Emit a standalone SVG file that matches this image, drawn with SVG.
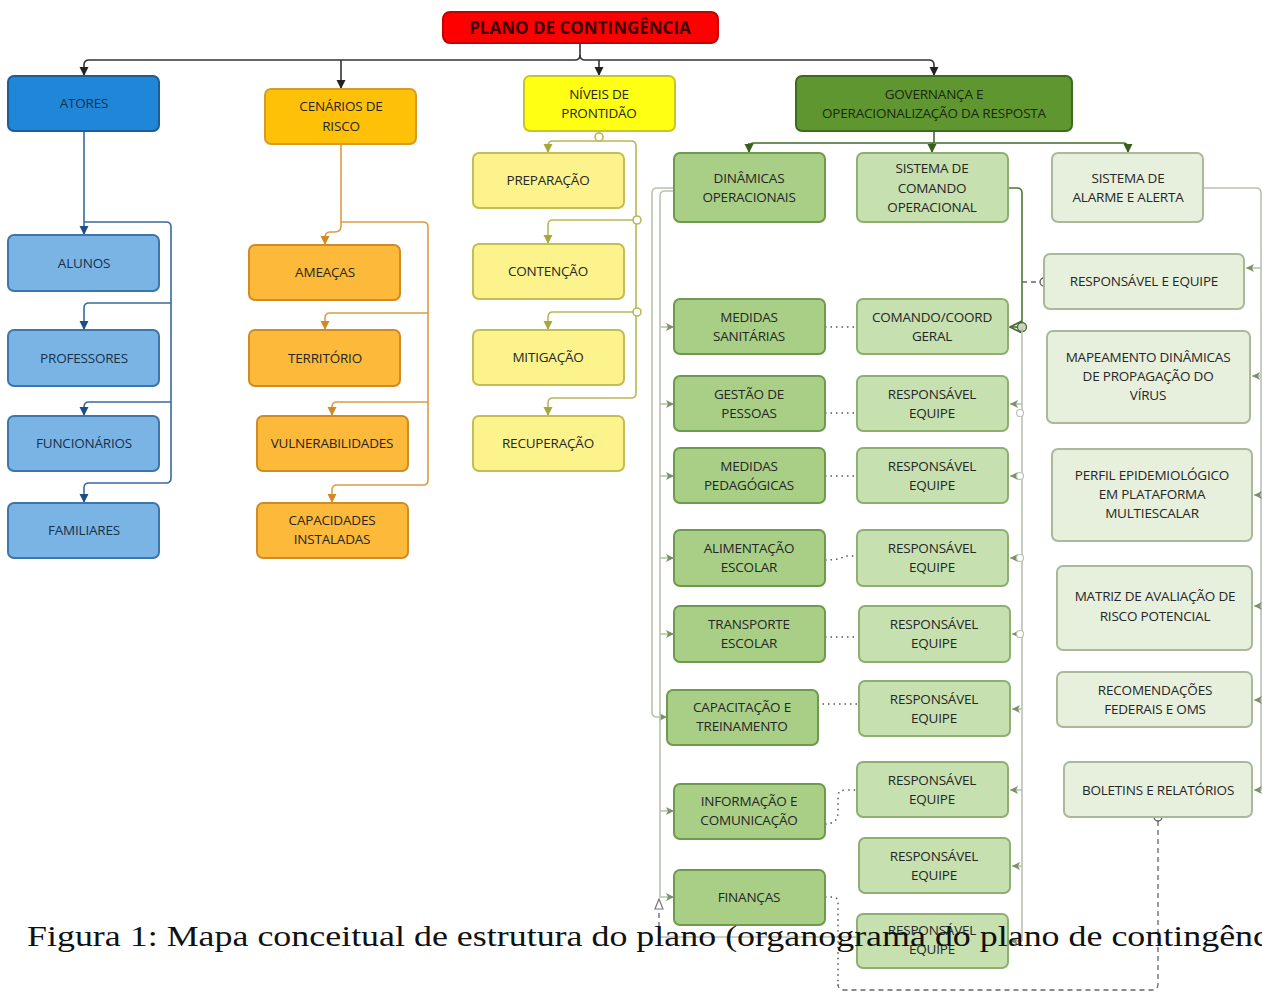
<svg xmlns="http://www.w3.org/2000/svg" width="1262" height="992" viewBox="0 0 1262 992">
<style>
.t{font-family:"Open Sans","Noto Sans",sans-serif;font-size:13.5px;text-anchor:middle;fill:#262626;letter-spacing:-0.2px}
.tb{fill:#17304d}
.c{fill:none;stroke-width:1.6}
.bx{stroke-width:2}
.blue1{fill:#2087d8;stroke:#1b5d96}
.blue2{fill:#7ab4e4;stroke:#3c76ad}
.or1{fill:#ffc107;stroke:#d59b2a}
.or2{fill:#fdb93a;stroke:#cf8c26}
.ye1{fill:#ffff14;stroke:#c6c52a}
.ye2{fill:#fcf38c;stroke:#c4bd55}
.gr0{fill:#5f962f;stroke:#3c6a1f}
.gr1{fill:#a9cf87;stroke:#6e9a4b}
.gr2{fill:#c7e0b0;stroke:#8fae72}
.gr3{fill:#e6f0dc;stroke:#a9b99a}
.dot{fill:none;stroke:#555;stroke-width:1.5;stroke-dasharray:1.5 4}
.dash{fill:none;stroke:#666;stroke-width:1.3;stroke-dasharray:5 4}
</style>
<defs>
<marker id="aK" markerUnits="userSpaceOnUse" markerWidth="10" markerHeight="10" refX="9" refY="5" orient="auto"><path d="M0,0.5 L9,5 L0,9.5 z" fill="#222"/></marker>
<marker id="aB" markerUnits="userSpaceOnUse" markerWidth="10" markerHeight="10" refX="9" refY="5" orient="auto"><path d="M0,0.5 L9,5 L0,9.5 z" fill="#1f4f82"/></marker>
<marker id="aO" markerUnits="userSpaceOnUse" markerWidth="10" markerHeight="10" refX="9" refY="5" orient="auto"><path d="M0,0.5 L9,5 L0,9.5 z" fill="#d08a24"/></marker>
<marker id="aY" markerUnits="userSpaceOnUse" markerWidth="10" markerHeight="10" refX="9" refY="5" orient="auto"><path d="M0,0.5 L9,5 L0,9.5 z" fill="#a8a83a"/></marker>
<marker id="aG" markerUnits="userSpaceOnUse" markerWidth="10" markerHeight="10" refX="9" refY="5" orient="auto"><path d="M0,0.5 L9,5 L0,9.5 z" fill="#36601c"/></marker>
<marker id="aL" markerUnits="userSpaceOnUse" markerWidth="10" markerHeight="10" refX="8" refY="4" orient="auto"><path d="M0,0 L8,4 L0,8 L2,4 z" fill="#7d9169"/></marker>
<marker id="aC" markerUnits="userSpaceOnUse" markerWidth="14" markerHeight="14" refX="12" refY="6" orient="auto"><path d="M0,0 L12,6 L0,12 L3,6 z" fill="none" stroke="#4a6a38" stroke-width="1.6"/></marker>
</defs>

<g id="connectors">
<g stroke="#333" class="c">
<path d="M580,43 V55 Q580,60 575,60 H89 Q84,60 84,65 V76" marker-end="url(#aK)"/>
<path d="M580,55 Q580,60 585,60 H929 Q934,60 934,65 V76" marker-end="url(#aK)"/>
<path d="M341,60 V89" marker-end="url(#aK)"/>
<path d="M599,60 V76" marker-end="url(#aK)"/>
</g>
<g stroke="#3a6a9e" class="c">
<path d="M84,131 V235" marker-end="url(#aB)"/>
<path d="M84,222 H166 Q171,222 171,227 V478 Q171,483 166,483 H89 Q84,483 84,488 V503" marker-end="url(#aB)"/>
<path d="M171,303 H89 Q84,303 84,308 V330" marker-end="url(#aB)"/>
<path d="M171,402 H89 Q84,402 84,407 V416" marker-end="url(#aB)"/>
</g>
<g stroke="#dc9c45" class="c">
<path d="M341,144 V226 Q341,232 335,232 H330 Q325,232 325,238 V245" marker-end="url(#aO)"/>
<path d="M341,222 H423 Q428,222 428,227 V480 Q428,485 423,485 H337 Q332,485 332,490 V503" marker-end="url(#aO)"/>
<path d="M428,313 H330 Q325,313 325,318 V330" marker-end="url(#aO)"/>
<path d="M428,402 H337 Q332,402 332,407 V416" marker-end="url(#aO)"/>
</g>
<g stroke="#b9b855" class="c">
<path d="M599,131 V141 H553 Q548,141 548,146 V153" marker-end="url(#aY)"/>
<path d="M599,141 H631 Q636,141 636,146 V393 Q636,398 631,398 H553 Q548,398 548,403 V416" marker-end="url(#aY)"/>
<path d="M636,220 H553 Q548,220 548,225 V244" marker-end="url(#aY)"/>
<path d="M636,312 H553 Q548,312 548,317 V330" marker-end="url(#aY)"/>
<circle cx="599" cy="137" r="4" fill="#fff"/>
<circle cx="637" cy="220" r="4" fill="#fff"/>
<circle cx="637" cy="312" r="4" fill="#fff"/>
</g>
<g stroke="#3f6b24" class="c">
<path d="M934,131 V143"/>
<path d="M749,153 V148 Q749,143 754,143 H1123 Q1128,143 1128,148 V153" marker-end="url(#aG)"/>
<path d="M749,143 V153" marker-end="url(#aG)"/>
<path d="M932,143 V153" marker-end="url(#aG)"/>
</g>
<g stroke="#b8c4ac" class="c">
<path d="M674,188 H657 Q652,188 652,193 V712 Q652,717 657,717 H667" marker-end="url(#aL)"/>
<path d="M674,191 H665 Q660,191 660,196 V897 H674" marker-end="url(#aL)"/>
<path d="M660,327 H674" marker-end="url(#aL)"/>
<path d="M660,404 H674" marker-end="url(#aL)"/>
<path d="M660,476 H674" marker-end="url(#aL)"/>
<path d="M660,558 H674" marker-end="url(#aL)"/>
<path d="M660,634 H674" marker-end="url(#aL)"/>
<path d="M660,811 H674" marker-end="url(#aL)"/>
<path d="M660,937 H857"/>
</g>
<path d="M659,913 V935" class="dash" stroke="#999"/>
<path d="M659,899 L655,909 H663 z" fill="#fff" stroke="#777" stroke-width="1.2"/>
<path d="M1008,188 H1017 Q1022,188 1022,193 V327" class="c" stroke="#4d7a33"/>
<path d="M1022,327 H1010" class="c" stroke="#4a6a38" marker-end="url(#aC)"/>
<circle cx="1022" cy="327" r="4.5" fill="#c9d6bd" stroke="#4a6a38" stroke-width="1.3"/>
<g stroke="#b9c2b0" class="c">
<path d="M1022,327 V941"/>
<path d="M1022,404 H1010" marker-end="url(#aL)"/>
<path d="M1022,476 H1010" marker-end="url(#aL)"/>
<path d="M1022,558 H1010" marker-end="url(#aL)"/>
<path d="M1022,634 H1012" marker-end="url(#aL)"/>
<path d="M1022,709 H1012" marker-end="url(#aL)"/>
<path d="M1022,790 H1010" marker-end="url(#aL)"/>
<path d="M1022,866 H1012" marker-end="url(#aL)"/>
<path d="M1022,941 H1010" marker-end="url(#aL)"/>
</g>
<g fill="#fff" stroke="#b9c2b0" stroke-width="1.2">
<circle cx="1020" cy="413" r="3.5"/>
<circle cx="1020" cy="476" r="3.5"/>
<circle cx="1020" cy="558" r="3.5"/>
<circle cx="1020" cy="634" r="3.5"/>
</g>
<path d="M1022,282 H1040" class="dash" stroke="#555"/>
<circle cx="1044" cy="282" r="4" fill="#fff" stroke="#555" stroke-width="1.3"/>
<path d="M825,327 H857" class="dot"/>
<path d="M825,413 H857" class="dot"/>
<path d="M825,476 H857" class="dot"/>
<path d="M825,560 Q840,560 845,556 H857" class="dot"/>
<path d="M825,637 H859" class="dot"/>
<path d="M817,704 H859" class="dot"/>
<path d="M825,824 Q838,824 838,812 V796 Q838,790 846,790 H857" class="dot"/>
<path d="M825,897 H833 Q838,897 838,903 V986" class="dot"/>
<path d="M1158,821 V984 Q1158,990 1152,990 H844 Q838,990 838,984" class="dash"/>
<circle cx="1158" cy="817" r="4" fill="#fff" stroke="#555" stroke-width="1.3"/>
<g stroke="#b9c2b0" class="c">
<path d="M1203,188 H1256 Q1261,188 1261,193 V790"/>
<path d="M1261,268 H1246" marker-end="url(#aL)"/>
<path d="M1261,376 H1252" marker-end="url(#aL)"/>
<path d="M1262,495 H1254" marker-end="url(#aL)"/>
<path d="M1262,606 H1254" marker-end="url(#aL)"/>
<path d="M1262,700 H1254" marker-end="url(#aL)"/>
<path d="M1262,790 H1254" marker-end="url(#aL)"/>
</g>
</g>

<g id="root"><rect x="443" y="12" width="275" height="31" rx="7" fill="#ff0000" stroke="#c40000" stroke-width="2"/><text x="580" y="33.5" class="t" style="font-weight:bold;font-size:17px;fill:#3a0000;letter-spacing:0">PLANO DE CONTINGÊNCIA</text></g>

<g id="atores"><rect x="8" y="76" width="151" height="55" rx="6" class="bx blue1"/><text x="84" y="108" class="t tb">ATORES</text></g>
<g id="alunos"><rect x="8" y="235" width="151" height="56" rx="6" class="bx blue2"/><text x="84" y="268" class="t tb">ALUNOS</text></g>
<g id="professores"><rect x="8" y="330" width="151" height="56" rx="6" class="bx blue2"/><text x="84" y="363" class="t tb">PROFESSORES</text></g>
<g id="funcionarios"><rect x="8" y="416" width="151" height="55" rx="6" class="bx blue2"/><text x="84" y="448" class="t tb">FUNCIONÁRIOS</text></g>
<g id="familiares"><rect x="8" y="503" width="151" height="55" rx="6" class="bx blue2"/><text x="84" y="535" class="t tb">FAMILIARES</text></g>

<g id="cenarios"><rect x="265" y="89" width="151" height="55" rx="6" class="bx or1"/><text x="341" y="111" class="t">CENÁRIOS DE</text><text x="341" y="131" class="t">RISCO</text></g>
<g id="ameacas"><rect x="249" y="245" width="151" height="55" rx="6" class="bx or2"/><text x="325" y="277" class="t">AMEAÇAS</text></g>
<g id="territorio"><rect x="249" y="330" width="151" height="56" rx="6" class="bx or2"/><text x="325" y="363" class="t">TERRITÓRIO</text></g>
<g id="vulnerabilidades"><rect x="257" y="416" width="151" height="55" rx="6" class="bx or2"/><text x="332" y="448" class="t">VULNERABILIDADES</text></g>
<g id="capacidades"><rect x="257" y="503" width="151" height="55" rx="6" class="bx or2"/><text x="332" y="525" class="t">CAPACIDADES</text><text x="332" y="544" class="t">INSTALADAS</text></g>

<g id="niveis"><rect x="524" y="76" width="151" height="55" rx="6" class="bx ye1"/><text x="599" y="99" class="t">NÍVEIS DE</text><text x="599" y="118" class="t">PRONTIDÃO</text></g>
<g id="preparacao"><rect x="473" y="153" width="151" height="55" rx="6" class="bx ye2"/><text x="548" y="185" class="t">PREPARAÇÃO</text></g>
<g id="contencao"><rect x="473" y="244" width="151" height="55" rx="6" class="bx ye2"/><text x="548" y="276" class="t">CONTENÇÃO</text></g>
<g id="mitigacao"><rect x="473" y="330" width="151" height="55" rx="6" class="bx ye2"/><text x="548" y="362" class="t">MITIGAÇÃO</text></g>
<g id="recuperacao"><rect x="473" y="416" width="151" height="55" rx="6" class="bx ye2"/><text x="548" y="448" class="t">RECUPERAÇÃO</text></g>

<g id="governanca"><rect x="796" y="76" width="276" height="55" rx="6" class="bx gr0"/><text x="934" y="99" class="t" style="fill:#1a280f">GOVERNANÇA E</text><text x="934" y="118" class="t" style="fill:#1a280f">OPERACIONALIZAÇÃO DA RESPOSTA</text></g>

<g id="dinamicas"><rect x="674" y="153" width="151" height="69" rx="6" class="bx gr1"/><text x="749" y="183" class="t">DINÂMICAS</text><text x="749" y="202" class="t">OPERACIONAIS</text></g>
<g id="med-sanitarias"><rect x="674" y="299" width="151" height="55" rx="6" class="bx gr1"/><text x="749" y="322" class="t">MEDIDAS</text><text x="749" y="341" class="t">SANITÁRIAS</text></g>
<g id="gestao-pessoas"><rect x="674" y="376" width="151" height="55" rx="6" class="bx gr1"/><text x="749" y="399" class="t">GESTÃO DE</text><text x="749" y="418" class="t">PESSOAS</text></g>
<g id="med-pedagogicas"><rect x="674" y="448" width="151" height="55" rx="6" class="bx gr1"/><text x="749" y="471" class="t">MEDIDAS</text><text x="749" y="490" class="t">PEDAGÓGICAS</text></g>
<g id="alimentacao"><rect x="674" y="530" width="151" height="56" rx="6" class="bx gr1"/><text x="749" y="553" class="t">ALIMENTAÇÃO</text><text x="749" y="572" class="t">ESCOLAR</text></g>
<g id="transporte"><rect x="674" y="606" width="151" height="56" rx="6" class="bx gr1"/><text x="749" y="629" class="t">TRANSPORTE</text><text x="749" y="648" class="t">ESCOLAR</text></g>
<g id="capacitacao"><rect x="667" y="690" width="151" height="55" rx="6" class="bx gr1"/><text x="742" y="712" class="t">CAPACITAÇÃO E</text><text x="742" y="731" class="t">TREINAMENTO</text></g>
<g id="informacao"><rect x="674" y="784" width="151" height="55" rx="6" class="bx gr1"/><text x="749" y="806" class="t">INFORMAÇÃO E</text><text x="749" y="825" class="t">COMUNICAÇÃO</text></g>
<g id="financas"><rect x="674" y="870" width="151" height="55" rx="6" class="bx gr1"/><text x="749" y="902" class="t">FINANÇAS</text></g>

<g id="comando"><rect x="857" y="153" width="151" height="69" rx="6" class="bx gr2"/><text x="932" y="173" class="t">SISTEMA DE</text><text x="932" y="193" class="t">COMANDO</text><text x="932" y="212" class="t">OPERACIONAL</text></g>
<g id="comando-geral"><rect x="857" y="299" width="151" height="55" rx="6" class="bx gr2"/><text x="932" y="322" class="t">COMANDO/COORD</text><text x="932" y="341" class="t">GERAL</text></g>
<g id="resp1"><rect x="857" y="376" width="151" height="55" rx="6" class="bx gr2"/><text x="932" y="399" class="t">RESPONSÁVEL</text><text x="932" y="418" class="t">EQUIPE</text></g>
<g id="resp2"><rect x="857" y="448" width="151" height="55" rx="6" class="bx gr2"/><text x="932" y="471" class="t">RESPONSÁVEL</text><text x="932" y="490" class="t">EQUIPE</text></g>
<g id="resp3"><rect x="857" y="530" width="151" height="56" rx="6" class="bx gr2"/><text x="932" y="553" class="t">RESPONSÁVEL</text><text x="932" y="572" class="t">EQUIPE</text></g>
<g id="resp4"><rect x="859" y="606" width="151" height="56" rx="6" class="bx gr2"/><text x="934" y="629" class="t">RESPONSÁVEL</text><text x="934" y="648" class="t">EQUIPE</text></g>
<g id="resp5"><rect x="859" y="681" width="151" height="55" rx="6" class="bx gr2"/><text x="934" y="704" class="t">RESPONSÁVEL</text><text x="934" y="723" class="t">EQUIPE</text></g>
<g id="resp6"><rect x="857" y="762" width="151" height="55" rx="6" class="bx gr2"/><text x="932" y="785" class="t">RESPONSÁVEL</text><text x="932" y="804" class="t">EQUIPE</text></g>
<g id="resp7"><rect x="859" y="838" width="151" height="55" rx="6" class="bx gr2"/><text x="934" y="861" class="t">RESPONSÁVEL</text><text x="934" y="880" class="t">EQUIPE</text></g>
<g id="resp8"><rect x="857" y="914" width="151" height="54" rx="6" class="bx gr2"/><text x="932" y="935" class="t">RESPONSÁVEL</text><text x="932" y="954" class="t">EQUIPE</text></g>

<g id="alarme"><rect x="1052" y="153" width="151" height="69" rx="6" class="bx gr3"/><text x="1128" y="183" class="t">SISTEMA DE</text><text x="1128" y="202" class="t">ALARME E ALERTA</text></g>
<g id="resp-equipe"><rect x="1044" y="254" width="200" height="55" rx="6" class="bx gr3"/><text x="1144" y="286" class="t">RESPONSÁVEL E EQUIPE</text></g>
<g id="mapeamento"><rect x="1047" y="331" width="203" height="92" rx="6" class="bx gr3"/><text x="1148" y="362" class="t">MAPEAMENTO DINÂMICAS</text><text x="1148" y="381" class="t">DE PROPAGAÇÃO DO</text><text x="1148" y="400" class="t">VÍRUS</text></g>
<g id="perfil"><rect x="1052" y="449" width="200" height="92" rx="6" class="bx gr3"/><text x="1152" y="480" class="t">PERFIL EPIDEMIOLÓGICO</text><text x="1152" y="499" class="t">EM PLATAFORMA</text><text x="1152" y="518" class="t">MULTIESCALAR</text></g>
<g id="matriz"><rect x="1057" y="566" width="195" height="84" rx="6" class="bx gr3"/><text x="1155" y="601" class="t">MATRIZ DE AVALIAÇÃO DE</text><text x="1155" y="621" class="t">RISCO POTENCIAL</text></g>
<g id="recomendacoes"><rect x="1057" y="672" width="195" height="55" rx="6" class="bx gr3"/><text x="1155" y="695" class="t">RECOMENDAÇÕES</text><text x="1155" y="714" class="t">FEDERAIS E OMS</text></g>
<g id="boletins"><rect x="1064" y="762" width="188" height="55" rx="6" class="bx gr3"/><text x="1158" y="795" class="t">BOLETINS E RELATÓRIOS</text></g>

<text x="27" y="946" style="font-family:'Liberation Serif','DejaVu Serif',serif;font-size:30px;fill:#111" textLength="1242" lengthAdjust="spacingAndGlyphs">Figura 1: Mapa conceitual de estrutura do plano (organograma do plano de contingênc</text>
</svg>
